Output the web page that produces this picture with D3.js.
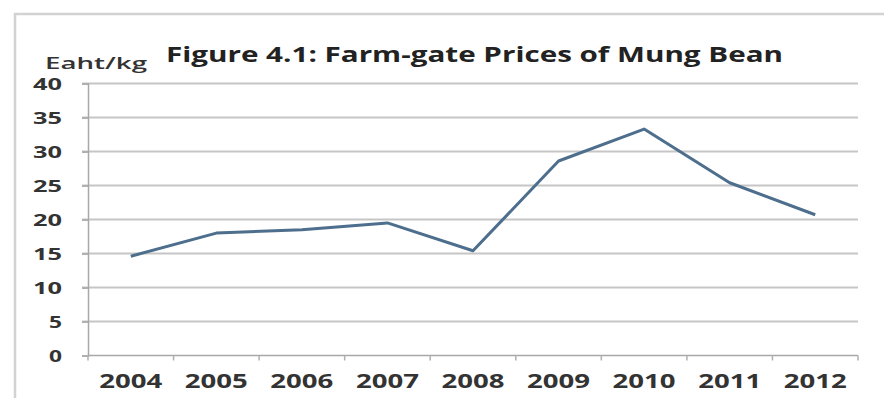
<!DOCTYPE html>
<html><head><meta charset="utf-8">
<script src="https://cdn.jsdelivr.net/npm/d3@7"></script>
<style>body{margin:0;background:#fff}svg{display:block}</style>
</head><body>
<script>
const years = ["2004","2005","2006","2007","2008","2009","2010","2011","2012"];
const prices = [14.6, 18.0, 18.5, 19.5, 15.4, 28.6, 33.3, 25.4, 20.7];
const yTicks = [0,5,10,15,20,25,30,35,40];
const title = "Figure 4.1: Farm-gate Prices of Mung Bean";
const yLabel = "Eaht/kg";

(function () {
const W = 884, H = 398;
const svg = d3.select("body").append("svg").attr("width", W).attr("height", H);
const font = "'Open Sans', 'DejaVu Sans', sans-serif";

// outer frame
svg.append("path").attr("d", `M15,${H} L15,14 L${W},14`)
  .attr("fill","none").attr("stroke","#d2d2d2").attr("stroke-width",2.5);

const pLeft = 88, pRight = 858, pTop = 83.5, pBottom = 355.5;
const x = d3.scaleBand().domain(years).range([pLeft, pRight]);
const y = d3.scaleLinear().domain([0, 40]).range([pBottom, pTop]);

// gridlines
svg.append("g").selectAll("line").data(yTicks.filter(d => d > 0)).join("line")
  .attr("x1", pLeft - 6).attr("x2", pRight)
  .attr("y1", d => y(d)).attr("y2", d => y(d))
  .attr("stroke", "#c6c6c6").attr("stroke-width", 2);

// y axis
const yAxis = svg.append("g").attr("transform", `translate(${pLeft},0)`)
  .call(d3.axisLeft(y).tickValues(yTicks).tickSize(6).tickPadding(20));
yAxis.select(".domain").attr("stroke", "#a8a8a8").attr("stroke-width", 1.5);
yAxis.selectAll(".tick line").attr("stroke", "#b0b0b0").attr("stroke-width", 2);
yAxis.selectAll(".tick text").attr("font-family", font).attr("font-weight", "bold")
  .attr("font-size", 16).attr("fill", "#333").attr("dy", "0.36em")
  .attr("textLength", d => d >= 10 ? 29 : 13).attr("lengthAdjust", "spacingAndGlyphs");

// x axis
const xg = svg.append("g").attr("transform", `translate(0,${pBottom})`);
xg.append("line").attr("x1", pLeft).attr("x2", pRight).attr("y1", 0).attr("y2", 0)
  .attr("stroke", "#a8a8a8").attr("stroke-width", 1.5);
const bounds = years.map(d => x(d)).concat([pRight]);
xg.selectAll("line.tk").data(bounds).join("line").attr("class","tk")
  .attr("x1", d => d).attr("x2", d => d).attr("y1", 0).attr("y2", 5)
  .attr("stroke", "#b0b0b0").attr("stroke-width", 1.5);
xg.selectAll("text").data(years).join("text")
  .attr("x", d => x(d) + x.bandwidth() / 2).attr("y", 32)
  .attr("text-anchor", "middle").attr("font-family", font).attr("font-weight", "bold")
  .attr("font-size", 19).attr("fill", "#333")
  .attr("textLength", 63).attr("lengthAdjust", "spacingAndGlyphs")
  .text(d => d);

// line
const line = d3.line().x((d, i) => x(years[i]) + x.bandwidth() / 2).y(d => y(d));
svg.append("path").datum(prices).attr("d", line)
  .attr("fill", "none").attr("stroke", "#4d6e8c").attr("stroke-width", 3)
  .attr("stroke-linejoin", "round");

// title
svg.append("text").attr("x", 166).attr("y", 62)
  .attr("font-family", font).attr("font-weight", "bold").attr("font-size", 21)
  .attr("fill", "#222").attr("textLength", 617).attr("lengthAdjust", "spacingAndGlyphs")
  .text(title);

// y label
svg.append("text").attr("x", 45).attr("y", 69)
  .attr("font-family", font).attr("font-weight", "600").attr("font-size", 17)
  .attr("fill", "#333").attr("textLength", 102).attr("lengthAdjust", "spacingAndGlyphs")
  .text(yLabel);
})();
</script>
</body></html>
